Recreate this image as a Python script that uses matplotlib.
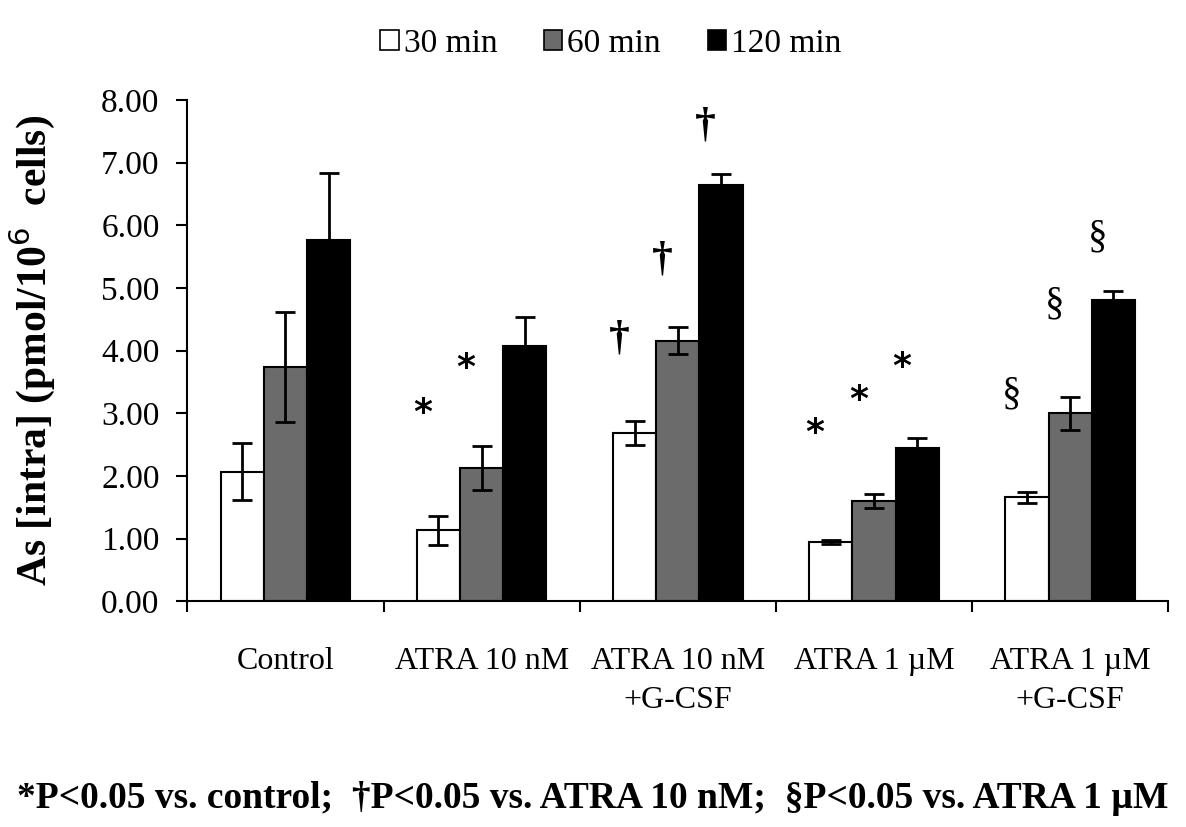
import numpy as np
import matplotlib
matplotlib.use('Agg')
import matplotlib.pyplot as plt
from matplotlib.patches import Patch

groups = ['Control', 'ATRA 10 nM', 'ATRA 10 nM\n+G-CSF', 'ATRA 1 µM', 'ATRA 1 µM\n+G-CSF']
series = ['30 min', '60 min', '120 min']

mean_30 = [2.07, 1.13, 2.68, 0.95, 1.66]
mean_60 = [3.74, 2.13, 4.16, 1.60, 3.00]
mean_120 = [5.77, 4.08, 6.65, 2.44, 4.81]
err_30 = [0.46, 0.23, 0.19, 0.03, 0.09]
err_60 = [0.88, 0.35, 0.21, 0.11, 0.26]
err_120 = [1.07, 0.45, 0.17, 0.17, 0.15]

# significance marks: (group, series index, symbol, y of symbol)
marks = [
    (1, 0, '*', 3.01), (1, 1, '*', 3.72),
    (2, 0, '†', 4.19), (2, 1, '†', 5.46), (2, 2, '†', 7.60),
    (3, 0, '*', 2.68), (3, 1, '*', 3.21), (3, 2, '*', 3.74),
    (4, 0, '§', 3.31), (4, 1, '§', 4.75), (4, 2, '§', 5.81),
]

footnote = '*P<0.05 vs. control;  †P<0.05 vs. ATRA 10 nM;  §P<0.05 vs. ATRA 1 µM'

plt.rcParams['font.family'] = ['Liberation Serif', 'DejaVu Serif']

fig = plt.figure(figsize=(11.86, 8.27), dpi=100)
ax = fig.add_axes([0.158, 0.273, 0.827, 0.606])

colors = ['white', '#6b6b6b', 'black']
means = [mean_30, mean_60, mean_120]
errs = [err_30, err_60, err_120]
width = 0.22
centers = np.arange(len(groups)) + 0.5

for i in range(3):
    x = centers + (i - 1) * width
    ax.bar(x, means[i], width, color=colors[i], edgecolor='black', linewidth=1.5,
           yerr=errs[i], error_kw=dict(ecolor='black', elinewidth=2, capsize=7, capthick=2),
           label=series[i], zorder=2)

for g, s, sym, y in marks:
    x = centers[g] + (s - 1) * width - 0.08
    if sym == '*':
        ax.text(x, y, sym, ha='center', va='center', fontsize=26, fontweight='bold', family='DejaVu Sans')
    elif sym == '†':
        ax.text(x, y, sym, ha='center', va='center', fontsize=30, fontweight='bold')
    else:
        ax.text(x, y, sym, ha='center', va='center', fontsize=28)

ax.set_xlim(0, len(groups))
ax.set_ylim(0, 8)
ax.set_yticks(np.arange(0, 8.01, 1.0))
ax.set_yticklabels(['%.2f' % v for v in np.arange(0, 8.01, 1.0)], fontsize=24)
ax.set_xticks(np.arange(0, len(groups) + 1))
ax.set_xticklabels([])
ax.set_xticks(centers, minor=True)
ax.set_xticklabels(groups, minor=True, fontsize=23, linespacing=1.45)
ax.tick_params(axis='x', which='minor', length=0, pad=33)
ax.tick_params(axis='y', which='major', pad=12)
ax.tick_params(axis='both', which='major', length=8, width=1.5, direction='out')
ax.spines['top'].set_visible(False)
ax.spines['right'].set_visible(False)
ax.spines['left'].set_linewidth(1.5)
ax.spines['bottom'].set_linewidth(1.5)

ax.set_ylabel('As [intra] (pmol/10$^{6}$  cells)', fontsize=30, fontweight='bold', labelpad=32)

handles = [Patch(facecolor=c, edgecolor='black', linewidth=1.2) for c in colors]
fig.legend(handles, series, loc='center', bbox_to_anchor=(0.515, 0.947), ncol=3, frameon=False,
           fontsize=24, handlelength=0.55, handleheight=0.55, handletextpad=0.15, columnspacing=1.4)

fig.text(0.5, 0.035, footnote, ha='center', va='center', fontsize=27, fontweight='bold')

fig.savefig('out.png', dpi=100)
